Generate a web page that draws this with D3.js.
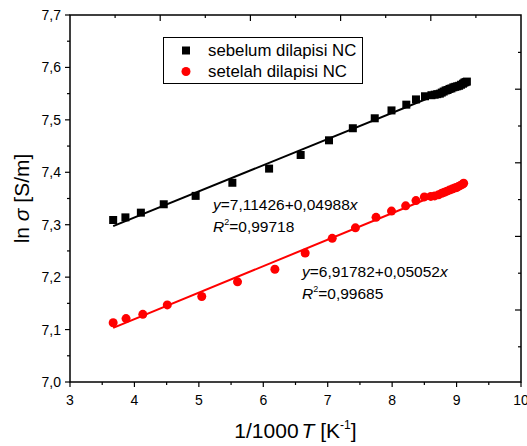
<!DOCTYPE html>
<html>
<head>
<meta charset="utf-8">
<script src="https://cdn.jsdelivr.net/npm/d3@7"></script>
<style>
  body { margin: 0; background: #fff; }
  text { font-family: Arial, "Liberation Sans", sans-serif; }
</style>
</head>
<body>
<svg id="chart" width="527" height="446"></svg>
<script>
// before coating (black squares)
var xBefore = [3.67, 3.86, 4.10, 4.455, 4.95, 5.52, 6.09, 6.58, 7.02, 7.39, 7.73, 7.99, 8.22, 8.37, 8.51,
  8.61, 8.66, 8.70, 8.74, 8.77, 8.80, 8.83, 8.86, 8.89, 8.92, 8.95, 8.98, 9.01, 9.04, 9.07, 9.10, 9.12, 9.14, 9.16];
var yBefore = [7.309, 7.314, 7.323, 7.339, 7.355, 7.380, 7.407, 7.433, 7.461, 7.484, 7.503, 7.518, 7.529, 7.539, 7.545,
  7.547, 7.548, 7.549, 7.550, 7.552, 7.554, 7.556, 7.557, 7.559, 7.560, 7.562, 7.563, 7.564, 7.565, 7.567, 7.569, 7.571, 7.572, 7.573];

// after coating (red circles)
var xAfter = [3.67, 3.87, 4.13, 4.51, 5.045, 5.60, 6.18, 6.65, 7.07, 7.43, 7.75, 7.99, 8.21, 8.37, 8.50,
  8.60, 8.66, 8.72, 8.77, 8.81, 8.85, 8.89, 8.93, 8.97, 9.00, 9.03, 9.06, 9.09, 9.11];
var yAfter = [7.113, 7.121, 7.129, 7.147, 7.163, 7.191, 7.215, 7.246, 7.274, 7.294, 7.314, 7.326, 7.336, 7.346, 7.353,
  7.354, 7.355, 7.357, 7.360, 7.362, 7.364, 7.366, 7.368, 7.370, 7.371, 7.373, 7.375, 7.377, 7.379];

var seriesNames = ["sebelum dilapisi NC", "setelah dilapisi NC"];
var intercepts = [7.11426, 6.91782];
var slopes = [0.04988, 0.05052];
var r2 = ["0,99718", "0,99685"];
var xTicks = [3, 4, 5, 6, 7, 8, 9, 10];
var yTicks = [7.0, 7.1, 7.2, 7.3, 7.4, 7.5, 7.6, 7.7];

var pL = 70, pR = 521, pT = 15, pB = 382;
var svg = d3.select("#chart");

var x = d3.scaleLinear().domain([3, 10]).range([pL, pR]);
var y = d3.scaleLinear().domain([7.0, 7.7]).range([pB, pT]);
var fmt = function(d) { return d3.format(".1f")(d).replace(".", ","); };

// frame
svg.append("rect")
  .attr("x", pL).attr("y", pT)
  .attr("width", pR - pL).attr("height", pB - pT)
  .attr("fill", "none").attr("stroke", "#000").attr("stroke-width", 1.5);

// bottom axis
var xMinor = d3.range(3.5, 10, 1);
svg.append("g").selectAll("line").data(xTicks.concat(xMinor)).enter().append("line")
  .attr("x1", x).attr("x2", x)
  .attr("y1", pB)
  .attr("y2", function(d) { return pB + (d % 1 === 0 ? 5 : 3); })
  .attr("stroke", "#000").attr("stroke-width", 1.2);
svg.append("g").selectAll("text").data(xTicks).enter().append("text")
  .attr("x", x).attr("y", pB + 23)
  .attr("text-anchor", "middle").attr("font-size", 14)
  .text(function(d) { return d; });

// left axis
var yMinor = d3.range(7.05, 7.7, 0.1);
svg.append("g").selectAll("line").data(yTicks).enter().append("line")
  .attr("x1", pL - 5).attr("x2", pL)
  .attr("y1", y).attr("y2", y)
  .attr("stroke", "#000").attr("stroke-width", 1.2);
svg.append("g").selectAll("line").data(yMinor).enter().append("line")
  .attr("x1", pL - 3).attr("x2", pL)
  .attr("y1", y).attr("y2", y)
  .attr("stroke", "#000").attr("stroke-width", 1.2);
svg.append("g").selectAll("text").data(yTicks).enter().append("text")
  .attr("x", pL - 9).attr("y", function(d) { return y(d) + 5; })
  .attr("text-anchor", "end").attr("font-size", 14)
  .text(fmt);

// top axis (secondary, no labels)
var xTop = d3.scaleLinear().domain([0, 10]).range([pL, pR]);
svg.append("g").selectAll("line").data(d3.range(1, 10)).enter().append("line")
  .attr("x1", xTop).attr("x2", xTop)
  .attr("y1", pT)
  .attr("y2", function(d) { return pT + (d % 2 === 0 ? 6 : 3); })
  .attr("stroke", "#000").attr("stroke-width", 1.2);

// right axis (secondary, no labels)
var yRight = d3.scaleLinear().domain([0, 8]).range([52.4, 346.8]);
svg.append("g").selectAll("line").data(d3.range(0, 9)).enter().append("line")
  .attr("x1", function(d) { return pR - (d % 2 === 1 ? 6 : 3); })
  .attr("x2", pR)
  .attr("y1", yRight).attr("y2", yRight)
  .attr("stroke", "#000").attr("stroke-width", 1.2);

// fit lines
var colors = ["#000", "#ff0000"];
var xs = [xBefore, xAfter];
[0, 1].forEach(function(i) {
  var ext = d3.extent(xs[i]);
  svg.append("line")
    .attr("x1", x(ext[0])).attr("y1", y(intercepts[i] + slopes[i] * ext[0]))
    .attr("x2", x(ext[1])).attr("y2", y(intercepts[i] + slopes[i] * ext[1]))
    .attr("stroke", colors[i]).attr("stroke-width", 2);
});

// markers
svg.append("g").selectAll("rect").data(d3.range(xBefore.length)).enter().append("rect")
  .attr("x", function(i) { return x(xBefore[i]) - 4; })
  .attr("y", function(i) { return y(yBefore[i]) - 4; })
  .attr("width", 8).attr("height", 8)
  .attr("fill", "#000");
svg.append("g").selectAll("circle").data(d3.range(xAfter.length)).enter().append("circle")
  .attr("cx", function(i) { return x(xAfter[i]); })
  .attr("cy", function(i) { return y(yAfter[i]); })
  .attr("r", 4.5)
  .attr("fill", "#ff0000");

// equations
var eqPos = [[213, 210], [302, 277]];
[0, 1].forEach(function(i) {
  var t = svg.append("text").attr("x", eqPos[i][0]).attr("y", eqPos[i][1]).attr("font-size", 15.5);
  t.append("tspan").attr("font-style", "italic").text("y");
  t.append("tspan").text("=" + String(intercepts[i]).replace(".", ",") + "+" +
    d3.format(".5f")(slopes[i]).replace(".", ","));
  t.append("tspan").attr("font-style", "italic").text("x");
  var r = svg.append("text").attr("x", eqPos[i][0]).attr("y", eqPos[i][1] + 22).attr("font-size", 15.5);
  r.append("tspan").attr("font-style", "italic").text("R");
  r.append("tspan").attr("font-size", 9).attr("dy", -7).text("2");
  r.append("tspan").attr("dy", 7).text("=" + r2[i]);
});

// legend
var lg = svg.append("g");
lg.append("rect").attr("x", 163.5).attr("y", 37.5).attr("width", 199).attr("height", 46)
  .attr("fill", "#fff").attr("stroke", "#000").attr("stroke-width", 1);
lg.append("rect").attr("x", 182).attr("y", 46.5).attr("width", 8).attr("height", 8).attr("fill", "#000");
lg.append("circle").attr("cx", 186).attr("cy", 71.5).attr("r", 4.5).attr("fill", "#ff0000");
seriesNames.forEach(function(n, i) {
  lg.append("text").attr("x", 208).attr("y", 56 + i * 21).attr("font-size", 16.8).text(n);
});

// axis titles
var xt = svg.append("text").attr("x", (pL + pR) / 2).attr("y", 438)
  .attr("text-anchor", "middle").attr("font-size", 21);
xt.append("tspan").text("1/1000");
xt.append("tspan").attr("font-style", "italic").attr("dx", 3).text("T");
xt.append("tspan").text(" [K");
xt.append("tspan").attr("font-size", 12).attr("dy", -9).text("-1");
xt.append("tspan").attr("dy", 9).text("]");

var yt = svg.append("text")
  .attr("transform", "translate(29," + (pT + pB) / 2 + ") rotate(-90)")
  .attr("text-anchor", "middle").attr("font-size", 21);
yt.append("tspan").text("ln ");
yt.append("tspan").attr("font-style", "italic").text("σ");
yt.append("tspan").text(" [S/m]");
</script>
</body>
</html>
